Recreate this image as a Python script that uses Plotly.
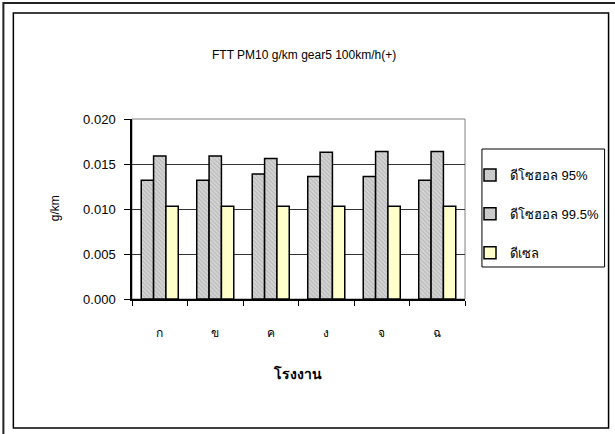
import plotly.graph_objects as go

# Plants (x categories) and PM10 emission factors in g/km
plants = ["ก", "ข", "ค", "ง", "จ", "ฉ"]
diesohol_95 = [0.0132, 0.0132, 0.0139, 0.0136, 0.0136, 0.0132]
diesohol_995 = [0.0159, 0.0159, 0.0156, 0.0163, 0.0164, 0.0164]
diesel = [0.0103, 0.0103, 0.0103, 0.0103, 0.0103, 0.0103]

series_names = ["ดีโซฮอล 95%", "ดีโซฮอล 99.5%", "ดีเซล"]
y_ticks = [0.000, 0.005, 0.010, 0.015, 0.020]

FONT = "Arial, 'Liberation Sans', sans-serif"
W, H = 615, 434
L, R, T, B = 132, 466, 119, 299  # plot area in pixels


def px(x):
    return (x - L) / (R - L)


def py(y):
    return (B - y) / (B - T)


hatch = dict(shape="\\", fgcolor="#9a9a9a", bgcolor="#d6d6d6", size=3, solidity=0.4)

fig = go.Figure()
fig.add_trace(go.Bar(
    x=plants, y=diesohol_95, name=series_names[0], legendgroup="a",
    marker=dict(color="#c0c0c0", pattern=hatch, line=dict(color="black", width=1.5)),
))
fig.add_trace(go.Bar(
    x=plants, y=diesohol_995, name=series_names[1], legendgroup="b",
    marker=dict(color="#c0c0c0", pattern=hatch, line=dict(color="black", width=1.5)),
))
fig.add_trace(go.Bar(
    x=plants, y=diesel, name=series_names[2], legendgroup="c",
    marker=dict(color="#ffffcc", line=dict(color="black", width=1.5)),
))

shapes = [
    # outer frame
    dict(type="rect", xref="paper", yref="paper", x0=px(3), x1=px(640), y0=py(460), y1=py(3),
         line=dict(color="#222", width=2), layer="below"),
    # chart frame
    dict(type="rect", xref="paper", yref="paper", x0=px(13), x1=px(610), y0=py(428), y1=py(13),
         line=dict(color="black", width=1.5), layer="below"),
    # plot area border
    dict(type="rect", xref="paper", yref="paper", x0=0, x1=1, y0=0, y1=1,
         line=dict(color="#808080", width=1), layer="below"),
    # legend box
    dict(type="rect", xref="paper", yref="paper", x0=px(483), x1=px(606), y0=py(267), y1=py(149),
         line=dict(color="black", width=1), fillcolor="white", layer="below"),
]

annotations = [
    dict(text="FTT PM10 g/km gear5 100km/h(+)", xref="paper", yref="paper",
         x=px(305), y=py(46), showarrow=False, font=dict(size=12, color="black", family=FONT)),
    dict(text="g/km", xref="paper", yref="paper", x=px(46), y=py(208), textangle=-90,
         showarrow=False, font=dict(size=12, color="black", family=FONT)),
    dict(text="<b>โรงงาน</b>", xref="paper", yref="paper", x=px(298), y=py(384),
         showarrow=False, font=dict(size=14, color="black", family=FONT)),
]

fig.update_layout(
    width=W, height=H,
    margin=dict(l=L, r=W - R, t=T, b=H - B),
    paper_bgcolor="white", plot_bgcolor="white",
    barmode="group", bargap=0.333, bargroupgap=0,
    font=dict(family=FONT, size=12, color="black"),
    showlegend=True,
    legend=dict(x=px(470), y=py(160), xanchor="left", yanchor="top",
                bgcolor="rgba(0,0,0,0)", borderwidth=0, tracegroupgap=19,
                traceorder="grouped", font=dict(size=13, family=FONT)),
    shapes=shapes, annotations=annotations,
)
fig.update_xaxes(
    showline=True, linecolor="black", linewidth=1.5, ticks="outside", tickson="boundaries",
    ticklen=5, tickcolor="black", showgrid=False, ticklabelstandoff=22,
    tickfont=dict(size=12, family=FONT),
)
fig.update_yaxes(
    range=[0, 0.020], tickvals=y_ticks, tickformat=".3f",
    showline=True, linecolor="black", linewidth=1.5, ticks="outside", ticklen=6,
    tickcolor="black", showgrid=True, gridcolor="#333333", gridwidth=1,
    zeroline=False, ticklabelstandoff=6, tickfont=dict(size=13, family=FONT),
)

fig.write_html("out.html")
